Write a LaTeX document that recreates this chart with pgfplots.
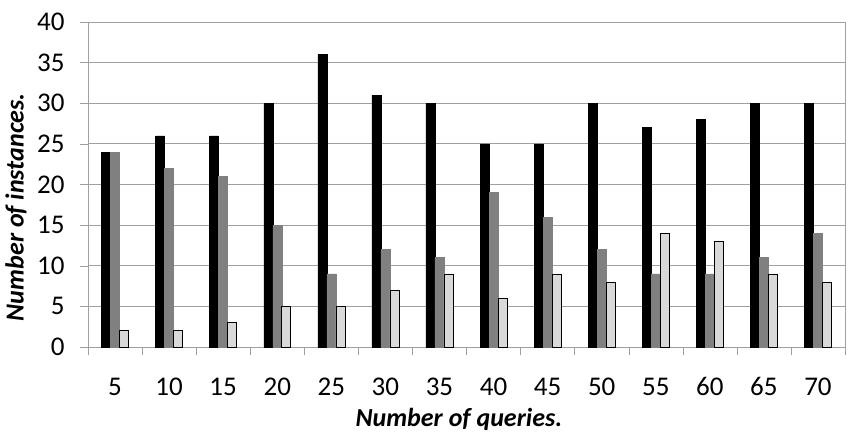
\documentclass[border=0pt]{standalone}
\usepackage{pgfplots}
\pgfplotsset{compat=1.18}
\usepackage{fontspec}
\setmainfont{Carlito}
\definecolor{gridc}{HTML}{A0A0A0}
\definecolor{midgray}{HTML}{808080}
\definecolor{lightg}{HTML}{D9D9D9}
\begin{document}
\begin{tikzpicture}[x=1pt,y=1pt]
\useasboundingbox (0,0) rectangle (850,440);
\begin{axis}[
  at={(88pt,93pt)}, anchor=south west,
  scale only axis, width=757pt, height=325pt,
  xmin=-0.5, xmax=13.5, ymin=0, ymax=40,
  ybar=0pt, bar width=9pt,
  xtick={0,...,13},
  xticklabels={5,10,15,20,25,30,35,40,45,50,55,60,65,70},
  minor xtick={-0.5,0.5,...,13.5},
  ytick={0,5,...,40},
  xtick pos=bottom, ytick pos=left,
  tick align=outside,
  major x tick style={draw=none},
  minor tick length=8pt,
  major tick length=8pt,
  every tick/.style={gridc},
  tick style={gridc},
  ymajorgrids, grid style={gridc, line width=0.9pt},
  axis line style={gridc, line width=0.9pt},
  /pgf/number format/assume math mode=true,
  ticklabel style={font=\fontsize{27}{30}\selectfont},
  xticklabel style={anchor=base, yshift=-40pt, inner sep=0pt},
  yticklabel style={xshift=-12pt},
  xlabel={\bfseries\itshape Number of queries.},
  ylabel={\bfseries\itshape Number of instances.},
  label style={font=\fontsize{26}{30}\selectfont},
  xlabel style={at={(axis description cs:0.49,0)}, anchor=north, yshift=-58pt},
  ylabel style={at={(axis description cs:-0.095,0.43)}, anchor=center, rotate=0},
]
\addplot[fill=black, draw=black] coordinates {(0,24)(1,26)(2,26)(3,30)(4,36)(5,31)(6,30)(7,25)(8,25)(9,30)(10,27)(11,28)(12,30)(13,30)};
\addplot[fill=midgray, draw=midgray] coordinates {(0,24)(1,22)(2,21)(3,15)(4,9)(5,12)(6,11)(7,19)(8,16)(9,12)(10,9)(11,9)(12,11)(13,14)};
\addplot[fill=lightg, draw=black, line width=0.6pt] coordinates {(0,2)(1,2)(2,3)(3,5)(4,5)(5,7)(6,9)(7,6)(8,9)(9,8)(10,14)(11,13)(12,9)(13,8)};
\end{axis}
\end{tikzpicture}
\end{document}
